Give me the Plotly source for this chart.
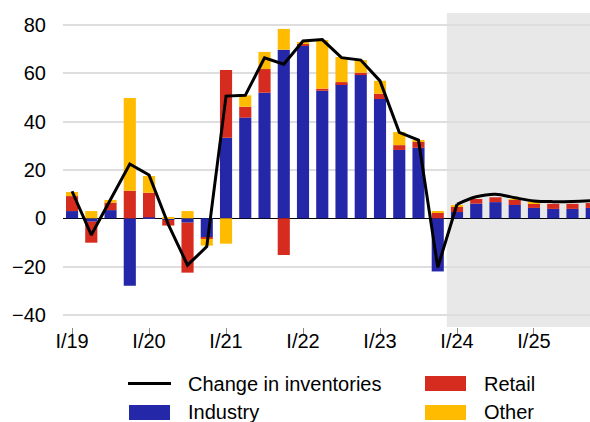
import plotly.graph_objects as go

# Quarterly contributions to the change in inventories
quarters = [f"{q}/{y}" for y in range(19, 26) for q in ("I", "II", "III", "IV")]

industry = [3.0, -1.4, 3.4, -27.9, 0.4, -0.7, -1.8, -7.9,
            33.4, 41.7, 52.0, 69.8, 71.5, 52.8, 55.6, 59.3,
            49.4, 28.3, 29.2, -22.0, 2.6, 6.1, 6.7, 5.5,
            4.3, 3.9, 3.9, 4.3]
retail = [6.2, -8.7, 3.1, 11.4, 10.2, -2.3, -20.7, -0.6,
          28.0, 4.5, 9.8, -15.2, 0.7, 0.9, 0.8, 1.0,
          2.2, 2.0, 2.4, 2.2, 2.1, 1.9, 2.0, 2.1,
          1.9, 2.1, 2.1, 2.0]
other = [1.7, 3.0, 1.1, 38.4, 6.9, 0.2, 3.0, -2.8,
         -10.5, 4.7, 7.1, 8.6, 0.8, 20.1, 10.4, 5.2,
         5.3, 5.4, 0.8, 0.8, 0.8, 0.0, 0.0, 0.3,
         0.3, 0.0, 0.0, 0.0]
inventories = [11.2, -6.9, 7.8, 22.5, 17.9, -2.5, -19.4, -11.7,
               50.6, 50.9, 66.4, 63.8, 73.4, 74.0, 66.5, 65.5,
               56.9, 35.6, 32.4, -20.3, 5.8, 8.9, 10.0, 8.5,
               7.2, 6.9, 7.0, 7.3]

tick_labels = [q for q in quarters if q.startswith("I/")]
forecast_start = quarters.index("I/24")

BLUE = "#2427A7"
RED = "#D62B1F"
YELLOW = "#FFBB00"
FONT = "Liberation Sans, Arial, sans-serif"

fig = go.Figure()
for name, vals, col in (("Industry", industry, BLUE),
                        ("Retail", retail, RED),
                        ("Other", other, YELLOW)):
    fig.add_trace(go.Bar(x=quarters, y=vals, name=name, marker_color=col,
                         marker_line_width=0, showlegend=False))

# Outturn as straight segments, projection smoothed
fig.add_trace(go.Scatter(x=quarters[:forecast_start + 1],
                         y=inventories[:forecast_start + 1],
                         mode="lines", line=dict(color="black", width=3),
                         showlegend=False))
fig.add_trace(go.Scatter(x=quarters[forecast_start:],
                         y=inventories[forecast_start:],
                         mode="lines", line=dict(color="black", width=3, shape="spline"),
                         showlegend=False))

W, H = 590, 422
ML, MR, MT, MB = 63, 0, 13, 95
PW, PH = W - ML - MR, H - MT - MB


def px(p):
    return (p - ML) / PW


def py(p):
    return (H - MB - p) / PH


shapes = [dict(type="rect", xref="x", yref="paper",
               x0=forecast_start - 0.53, x1=len(quarters) + 1, y0=0, y1=1,
               fillcolor="#E8E8E8", line_width=0, layer="below")]

# Legend drawn as swatches and labels below the plot
shapes.append(dict(type="line", xref="paper", yref="paper",
                   x0=px(128), x1=px(171), y0=py(383.5), y1=py(383.5),
                   line=dict(color="black", width=3)))
for (x0, y0), col in (((425, 376), RED), ((129, 405), BLUE), ((425, 405), YELLOW)):
    shapes.append(dict(type="rect", xref="paper", yref="paper",
                       x0=px(x0), x1=px(x0 + 41), y0=py(y0 + 15), y1=py(y0),
                       fillcolor=col, line_width=0))

annotations = []
for text, x, y in (("Change in inventories", 186, 383.5), ("Retail", 482, 383.5),
                   ("Industry", 186, 412.5), ("Other", 482, 412.5)):
    annotations.append(dict(text=text, xref="paper", yref="paper",
                            x=px(x), y=py(y), xanchor="left", yanchor="middle",
                            showarrow=False, font=dict(size=20, color="black", family=FONT)))

fig.update_layout(
    width=W, height=H,
    margin=dict(l=ML, r=MR, t=MT, b=MB),
    barmode="relative", bargap=0.37,
    plot_bgcolor="white", paper_bgcolor="white",
    font=dict(family=FONT, size=20, color="black"),
    shapes=shapes, annotations=annotations,
    showlegend=False,
)
fig.update_xaxes(range=[-0.47, 26.91], tickmode="array",
                 tickvals=tick_labels, ticktext=tick_labels,
                 ticks="outside", ticklen=7, tickcolor="#888888", tickwidth=1,
                 ticklabelstandoff=-11,
                 showgrid=False, showline=False, zeroline=False,
                 tickfont=dict(size=20))
fig.update_yaxes(range=[-45, 85], tickvals=[-40, -20, 0, 20, 40, 60, 80],
                 showgrid=True, gridcolor="#DEDEDE", gridwidth=2,
                 zeroline=True, zerolinecolor="black", zerolinewidth=1,
                 showline=False, ticks="", ticklabelstandoff=16,
                 tickfont=dict(size=20))

fig.write_html("out.html")
